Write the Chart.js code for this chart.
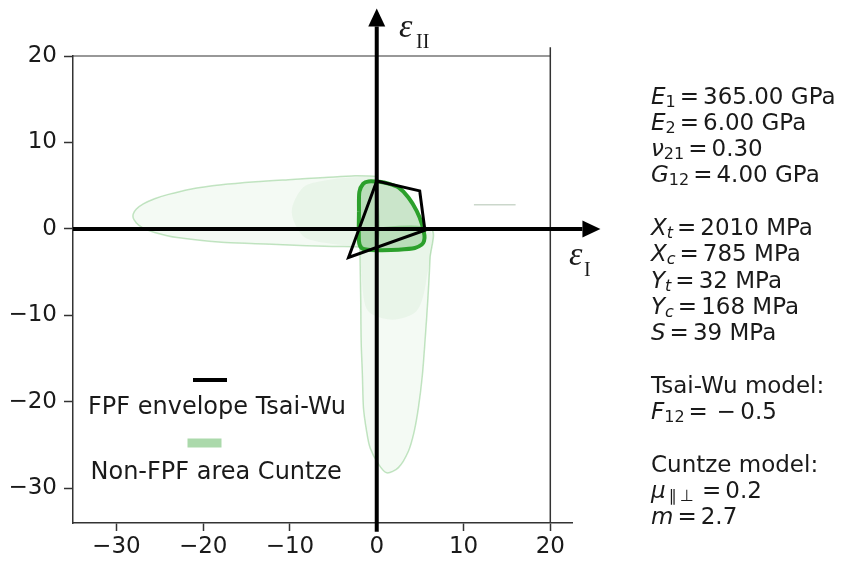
<!DOCTYPE html>
<html>
<head>
<meta charset="utf-8">
<script src="https://cdn.jsdelivr.net/npm/chart.js@4.4.0/dist/chart.umd.min.js"></script>
<style>
    body { margin: 0; background: #fff; }
    #contenedor { position: relative; width: 842px; height: 563px; overflow: hidden; }
    #grafico { position: absolute; left: 0; top: 0; }
    #parametros { position: absolute; left: 651px; top: 82.5px; font-family: "DejaVu Sans"; font-size: 23px; color: #1a1a1a; white-space: nowrap; }
    #parametros div { height: 26.3px; line-height: 26.3px; }
    #parametros sub { font-size: 16px; line-height: 0; vertical-align: -3px; }
    #parametros .eq { margin: 0 4px; }
</style>
</head>
<body>
<div id="contenedor">
    <canvas id="grafico" width="842" height="563"></canvas>
    <div id="parametros"></div>
</div>
<script>
// ejes
const ticksX = [-30, -20, -10, 0, 10, 20];
const etiquetasX = ['\u221230', '\u221220', '\u221210', '0', '10', '20'];
const ticksY = [-30, -20, -10, 0, 10, 20];
const etiquetasY = ['\u221230', '\u221220', '\u221210', '0', '10', '20'];

// envolvente FPF Tsai-Wu
const tsaiWuX = [0.0, 4.95, 5.55, -3.25, 0.0];
const tsaiWuY = [5.55, 4.4, -0.15, -3.3, 5.55];

// zona central Cuntze
const cuntzeX = [-2.05, -2.0, -1.55, -0.95, 0.3, 1.35, 2.5, 3.65, 4.6, 5.2, 5.5, 5.45, 5.2, 4.4, 2.5, 0.6, -1.0, -1.75, -2.05, -2.05];
const cuntzeY = [2.0, 4.3, 5.25, 5.5, 5.45, 5.25, 4.8, 3.65, 2.1, 0.6, -0.75, -1.4, -1.8, -2.2, -2.4, -2.45, -2.4, -2.2, -1.4, 2.0];

// lobulos Cuntze (zona no FPF)
const loboHorizX = [0, -2.5, -6, -10.2, -14, -17.9, -21.5, -24, -25.6, -26.9, -27.7, -28.1, -27.7, -26.9, -25.6, -23, -17.9, -14, -10.2, -6, -2.5, 0, 0];
const loboHorizY = [6.1, 6.15, 5.95, 5.7, 5.45, 5.1, 4.6, 4.0, 3.5, 2.9, 2.3, 1.5, 0.7, 0.1, -0.4, -1.0, -1.55, -1.7, -1.85, -2.0, -2.05, -2.1, 6.1];
const loboVertX = [-2.0, -1.93, -1.85, -1.8, -1.65, -1.53, -1.2, -0.77, 0.2, 1.15, 2.5, 3.65, 4.3, 4.8, 5.25, 5.57, 5.9, 6.15, 6.25, -2.0];
const loboVertY = [0, -3.3, -8, -12.9, -17, -20.7, -23.2, -25.3, -27.2, -28.2, -27.6, -25.7, -23.5, -20.7, -17, -12.9, -8, -3.3, 0, 0];
const loboHorizIntX = [0, -3, -6, -8.5, -9.8, -8.5, -6, -3, 0, 0];
const loboHorizIntY = [6.0, 5.95, 5.6, 4.8, 2.0, -0.8, -1.6, -1.9, -2.0, 6.0];
const loboVertIntX = [-1.9, -1.7, -1.0, 1.8, 4.6, 5.7, 6.0, -1.9];
const loboVertIntY = [0, -6, -9.5, -10.5, -9.5, -6, 0, 0];

// trazo tenue
const trazoX = [11.2, 16];
const trazoY = [2.8, 2.8];

// marco
const marcoSupX = [-35, 20];
const marcoSupY = [20, 20];
const marcoDerX = [20, 20];
const marcoDerY = [-34, 21];

// ejes principales con flecha
const ejeIX = [-35, 23.7];
const ejeIY = [0, 0];
const ejeIIX = [0, 0];
const ejeIIY = [-35, 23.4];

const leyendaTextos = ['FPF envelope Tsai-Wu', 'Non-FPF area Cuntze'];

const textoParametros = [
    '<i>E</i><sub>1</sub><span class="eq">=</span>365.00 GPa',
    '<i>E</i><sub>2</sub><span class="eq">=</span>6.00 GPa',
    '<i>\u03bd</i><sub>21</sub><span class="eq">=</span>0.30',
    '<i>G</i><sub>12</sub><span class="eq">=</span>4.00 GPa',
    '',
    '<i>X</i><sub><i>t</i></sub><span class="eq">=</span>2010 MPa',
    '<i>X</i><sub><i>c</i></sub><span class="eq">=</span>785 MPa',
    '<i>Y</i><sub><i>t</i></sub><span class="eq">=</span>32 MPa',
    '<i>Y</i><sub><i>c</i></sub><span class="eq">=</span>168 MPa',
    '<i>S</i><span class="eq">=</span>39 MPa',
    '',
    'Tsai-Wu model:',
    '<i>F</i><sub>12</sub><span class="eq">=</span>\u2009\u2212\u20090.5',
    '',
    'Cuntze model:',
    '<i>\u03bc</i><sub>\u2009\u2225\u2009\u22a5</sub><span class="eq" style="margin-left:8px">=</span>0.2',
    '<i>m</i><span class="eq">=</span>2.7'
];

document.getElementById('parametros').innerHTML = textoParametros.map(t => '<div>' + t + '</div>').join('');

function puntos(xs, ys) {
    return xs.map((x, i) => ({ x: x, y: ys[i] }));
}

Chart.defaults.font.family = '"DejaVu Sans"';

// flechas, leyenda y etiquetas de ejes
const pluginExtras = {
    id: 'extras',
    afterDatasetsDraw(chart) {
        const ctx = chart.ctx;
        ctx.save();
        [0, 1].forEach(function (idx) {
            const pts = chart.getDatasetMeta(idx).data;
            const a = pts[pts.length - 2], b = pts[pts.length - 1];
            const ang = Math.atan2(b.y - a.y, b.x - a.x);
            const largo = 18, ancho = 8.5;
            ctx.fillStyle = '#000';
            ctx.beginPath();
            ctx.moveTo(b.x + Math.cos(ang) * largo, b.y + Math.sin(ang) * largo);
            ctx.lineTo(b.x - Math.sin(ang) * ancho, b.y + Math.cos(ang) * ancho);
            ctx.lineTo(b.x + Math.sin(ang) * ancho, b.y - Math.cos(ang) * ancho);
            ctx.closePath();
            ctx.fill();
        });

        // leyenda
        ctx.strokeStyle = '#000';
        ctx.lineWidth = 4;
        ctx.beginPath();
        ctx.moveTo(193, 380);
        ctx.lineTo(227, 380);
        ctx.stroke();
        ctx.fillStyle = 'rgba(44,160,44,0.4)';
        ctx.fillRect(187.5, 438.5, 34, 9);
        ctx.fillStyle = '#1a1a1a';
        ctx.font = '24px "DejaVu Sans"';
        ctx.textAlign = 'left';
        ctx.textBaseline = 'alphabetic';
        ctx.fillText(leyendaTextos[0], 88, 413.5);
        ctx.fillText(leyendaTextos[1], 90.5, 478.5);

        // etiquetas epsilon
        ctx.font = 'italic 34px "Liberation Serif"';
        ctx.fillText('\u03b5', 399, 37);
        ctx.fillText('\u03b5', 569, 265);
        ctx.font = '20px "Liberation Serif"';
        ctx.fillText('II', 416, 48);
        ctx.fillText('I', 584, 276);
        ctx.restore();
    }
};

const ctx = document.getElementById('grafico').getContext('2d');

new Chart(ctx, {
    type: 'scatter',
    data: {
        datasets: [{
            label: 'eje I',
            data: puntos(ejeIX, ejeIY),
            showLine: true, borderColor: '#000', borderWidth: 4, pointRadius: 0, clip: false, order: 0
        }, {
            label: 'eje II',
            data: puntos(ejeIIX, ejeIIY),
            showLine: true, borderColor: '#000', borderWidth: 4, pointRadius: 0, clip: false, order: 0
        }, {
            label: 'FPF envelope Tsai-Wu',
            data: puntos(tsaiWuX, tsaiWuY),
            showLine: true, borderColor: '#000', borderWidth: 3, pointRadius: 0, borderJoinStyle: 'miter', order: 1
        }, {
            label: 'Non-FPF area Cuntze',
            data: puntos(cuntzeX, cuntzeY),
            showLine: true, borderColor: '#2ca02c', borderWidth: 4, pointRadius: 0, tension: 0.25,
            fill: 'shape', backgroundColor: 'rgba(44,150,44,0.25)', order: 2
        }, {
            label: 'lobulo horizontal interior',
            data: puntos(loboHorizIntX, loboHorizIntY),
            showLine: true, borderColor: 'rgba(44,160,44,0)', borderWidth: 0, pointRadius: 0, tension: 0.3,
            fill: 'shape', backgroundColor: 'rgba(44,160,44,0.05)', order: 3
        }, {
            label: 'lobulo vertical interior',
            data: puntos(loboVertIntX, loboVertIntY),
            showLine: true, borderColor: 'rgba(44,160,44,0)', borderWidth: 0, pointRadius: 0, tension: 0.3,
            fill: 'shape', backgroundColor: 'rgba(44,160,44,0.05)', order: 3
        }, {
            label: 'lobulo horizontal',
            data: puntos(loboHorizX, loboHorizY),
            showLine: true, borderColor: 'rgba(44,160,44,0.28)', borderWidth: 1.5, pointRadius: 0, tension: 0.3,
            fill: 'shape', backgroundColor: 'rgba(44,160,44,0.05)', order: 4
        }, {
            label: 'lobulo vertical',
            data: puntos(loboVertX, loboVertY),
            showLine: true, borderColor: 'rgba(44,160,44,0.28)', borderWidth: 1.5, pointRadius: 0, tension: 0.3,
            fill: 'shape', backgroundColor: 'rgba(44,160,44,0.05)', order: 4
        }, {
            label: 'trazo',
            data: puntos(trazoX, trazoY),
            showLine: true, borderColor: 'rgba(190,205,190,0.8)', borderWidth: 1.5, pointRadius: 0, order: 5
        }, {
            label: 'marco superior',
            data: puntos(marcoSupX, marcoSupY),
            showLine: true, borderColor: '#333', borderWidth: 1.2, pointRadius: 0, clip: false, order: 5
        }, {
            label: 'marco derecho',
            data: puntos(marcoDerX, marcoDerY),
            showLine: true, borderColor: '#333', borderWidth: 1.5, pointRadius: 0, clip: false, order: 5
        }]
    },
    plugins: [pluginExtras],
    options: {
        responsive: false,
        animation: false,
        events: [],
        layout: { padding: { left: 1, right: 270, top: 56, bottom: 0 } },
        plugins: {
            legend: { display: false },
            tooltip: { enabled: false }
        },
        scales: {
            x: {
                type: 'linear',
                min: -35,
                max: 22.5,
                afterBuildTicks: function (scale) { scale.ticks = ticksX.map(v => ({ value: v })); },
                afterFit: function (scale) { scale.height = 40; },
                ticks: {
                    callback: function (value, index) { return etiquetasX[index]; },
                    font: { size: 23 }, color: '#1a1a1a', padding: 2, maxRotation: 0, autoSkip: false
                },
                grid: { drawOnChartArea: false, drawTicks: true, tickLength: 8, tickWidth: 1.5, tickColor: '#333' },
                border: { display: true, color: '#333', width: 1.5 }
            },
            y: {
                type: 'linear',
                min: -34,
                max: 20,
                afterBuildTicks: function (scale) { scale.ticks = ticksY.map(v => ({ value: v })); },
                afterFit: function (scale) { scale.width = 72; },
                ticks: {
                    callback: function (value, index) { return etiquetasY[index]; },
                    font: { size: 23 }, color: '#1a1a1a', padding: 7, autoSkip: false
                },
                grid: { drawOnChartArea: false, drawTicks: true, tickLength: 9, tickWidth: 1.5, tickColor: '#333' },
                border: { display: true, color: '#333', width: 1.5 }
            }
        }
    }
});
</script>
</body>
</html>
